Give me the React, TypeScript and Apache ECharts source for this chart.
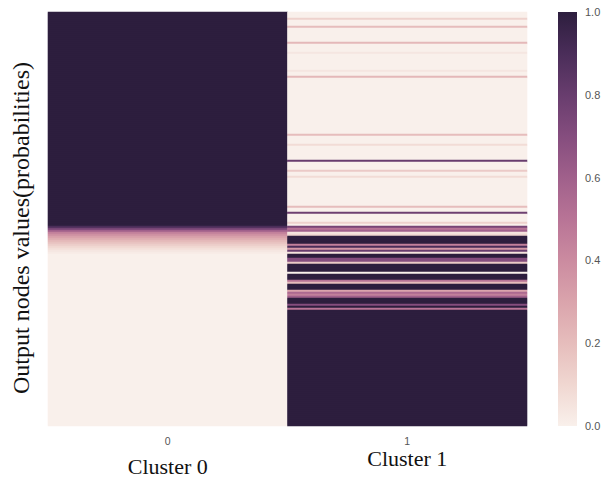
import React, { useEffect, useRef } from 'react';
import * as echarts from 'echarts';

// ---- data ----
const clusterLabels = ['0', '1'];
const clusterNames = ['Cluster 0', 'Cluster 1'];
const rowCount = 207; // output nodes (rows), top to bottom

// runs of rows: [firstRow, lastRow, probability]
const cluster0Runs: [number, number, number][] = [
  [0, 106, 1.0], [107, 107, 0.9], [108, 108, 0.75], [109, 109, 0.6], [110, 110, 0.45],
  [111, 111, 0.38], [112, 112, 0.32], [113, 113, 0.27], [114, 114, 0.22], [115, 115, 0.18],
  [116, 116, 0.14], [117, 117, 0.1], [118, 118, 0.07], [119, 119, 0.04], [120, 120, 0.02],
  [121, 206, 0.0],
];

const cluster1Runs: [number, number, number][] = [
  [0, 2, 0.0], [3, 3, 0.12], [4, 6, 0.0], [7, 7, 0.2], [8, 14, 0.0], [15, 15, 0.22],
  [16, 19, 0.0], [20, 20, 0.04], [21, 28, 0.0], [29, 29, 0.04], [30, 31, 0.0], [32, 32, 0.22],
  [33, 60, 0.0], [61, 61, 0.2], [62, 65, 0.0], [66, 66, 0.08], [67, 73, 0.0], [74, 74, 0.8],
  [75, 78, 0.0], [79, 79, 0.15], [80, 81, 0.0], [82, 82, 0.08], [83, 96, 0.0], [97, 97, 0.2],
  [98, 99, 0.0], [100, 100, 0.78], [101, 104, 0.0], [105, 105, 0.12], [106, 106, 0.0],
  [107, 107, 0.75], [108, 108, 0.5], [109, 109, 0.6], [110, 110, 0.05], [111, 111, 0.1],
  [112, 115, 1.0], [116, 116, 0.45], [117, 117, 0.9], [118, 118, 0.35], [119, 119, 0.8],
  [120, 120, 0.05], [121, 122, 1.0], [123, 124, 0.7], [125, 125, 0.15], [126, 129, 1.0],
  [130, 130, 0.0], [131, 133, 1.0], [134, 134, 0.5], [135, 135, 0.2], [136, 138, 1.0],
  [139, 139, 0.3], [140, 140, 0.55], [141, 141, 0.45], [142, 142, 0.6], [143, 145, 1.0],
  [146, 146, 0.7], [147, 147, 1.0], [148, 148, 0.5], [149, 206, 1.0],
];

const colorbarMin = 0;
const colorbarMax = 1;
const colorbarStep = 0.2;

// cubehelix-like palette, value 0 -> 1
const palette = [
  '#f9f0eb', '#f0d7d1', '#e6bdbc', '#daa4ac', '#cb8ba0', '#b87496',
  '#a0608b', '#854d7e', '#683d6e', '#4a2d59', '#2d1e3e',
];

function expandRuns(runs: [number, number, number][]): number[] {
  const vals: number[] = [];
  for (const [s, e, v] of runs) for (let r = s; r <= e; r++) vals[r] = v;
  return vals;
}

export default function App() {
  const ref = useRef<HTMLDivElement>(null);

  useEffect(() => {
    if (!ref.current) return;
    const chart = echarts.init(ref.current, null, { renderer: 'svg' });
    const rows = Array.from({ length: rowCount }, (_, i) => String(i));
    const cols = [expandRuns(cluster0Runs), expandRuns(cluster1Runs)];
    const heatData: [number, number, number][] = [];
    cols.forEach((vals, c) => vals.forEach((v, r) => heatData.push([c, r, v])));

    const serif = '"Liberation Serif", "Times New Roman", serif';
    const sans = '"Liberation Sans", Arial, sans-serif';

    chart.setOption({
      animation: false,
      grid: [
        { left: 48, top: 12, width: 479, height: 414 },
        { left: 558, top: 12, width: 19, height: 414 },
      ],
      xAxis: [
        {
          type: 'category', gridIndex: 0, data: clusterLabels,
          axisLine: { show: false }, axisTick: { show: false }, splitLine: { show: false },
          axisLabel: { color: '#555', fontSize: 10.5, fontFamily: sans, margin: 9 },
        },
        {
          type: 'category', gridIndex: 0, position: 'bottom', offset: 29,
          data: clusterNames.map((n, i) => (i === 0 ? n : '')),
          axisLine: { show: false }, axisTick: { show: false }, splitLine: { show: false },
          axisLabel: { color: '#111', fontSize: 22, fontFamily: serif, margin: 0 },
        },
        {
          type: 'category', gridIndex: 0, position: 'bottom', offset: 21,
          data: clusterNames.map((n, i) => (i === 1 ? n : '')),
          axisLine: { show: false }, axisTick: { show: false }, splitLine: { show: false },
          axisLabel: { color: '#111', fontSize: 22, fontFamily: serif, margin: 0 },
        },
        {
          type: 'category', gridIndex: 1, data: [''], show: false,
        },
      ],
      yAxis: [
        {
          type: 'category', gridIndex: 0, data: rows, inverse: true,
          axisLine: { show: false }, axisTick: { show: false }, axisLabel: { show: false },
          splitLine: { show: false },
          name: 'Output nodes values(probabilities)',
          nameLocation: 'middle', nameRotate: 90, nameGap: 15,
          nameTextStyle: { color: '#111', fontSize: 24, fontFamily: serif, padding: [0, 18, 0, 0] },
        },
        {
          type: 'value', gridIndex: 1, position: 'right',
          min: colorbarMin, max: colorbarMax, interval: colorbarStep,
          axisLine: { show: false }, axisTick: { show: false }, splitLine: { show: false },
          axisLabel: {
            color: '#555', fontSize: 11, fontFamily: sans, margin: 8,
            formatter: (v: number) => v.toFixed(1),
          },
        },
      ],
      visualMap: {
        show: false, type: 'continuous', min: colorbarMin, max: colorbarMax,
        seriesIndex: 0, dimension: 2, inRange: { color: palette },
      },
      series: [
        {
          type: 'heatmap', xAxisIndex: 0, yAxisIndex: 0, data: heatData,
          itemStyle: { borderWidth: 0 }, emphasis: { disabled: true },
          progressive: 0,
        },
        {
          type: 'bar', xAxisIndex: 3, yAxisIndex: 1, data: [colorbarMax],
          barWidth: '100%', silent: true,
          itemStyle: {
            color: new echarts.graphic.LinearGradient(0, 0, 0, 1,
              palette.slice().reverse().map((c, i) => ({ offset: i / (palette.length - 1), color: c }))),
          },
        },
      ],
    });
    return () => chart.dispose();
  }, []);

  return (
    <div
      ref={ref}
      style={{ position: 'fixed', left: 0, top: 0, width: 606, height: 485, background: '#fff' }}
    />
  );
}
